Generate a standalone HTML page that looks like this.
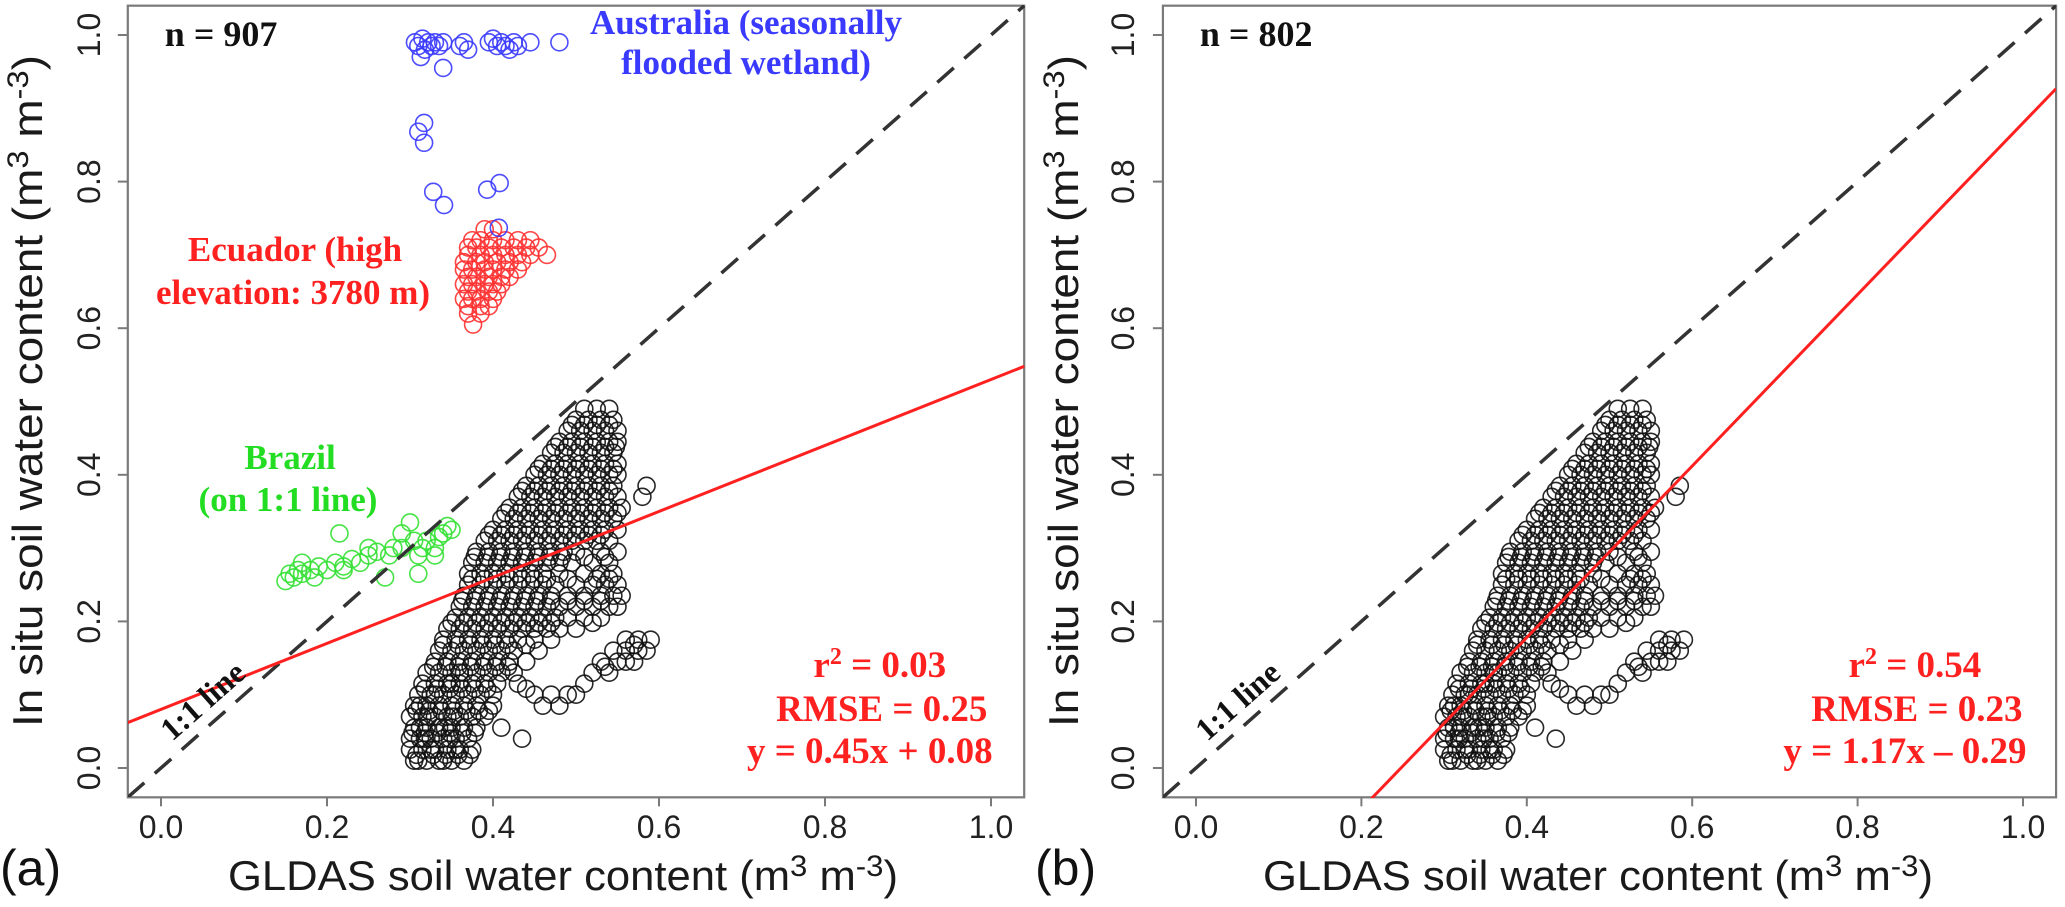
<!DOCTYPE html>
<html><head><meta charset="utf-8"><style>
html,body{margin:0;padding:0;background:#fff;width:2065px;height:907px;overflow:hidden;}
svg{display:block;}
</style></head><body>
<svg id="fig" width="2065" height="907" viewBox="0 0 2065 907" xmlns="http://www.w3.org/2000/svg">
<defs>
<clipPath id="clipA"><rect x="128" y="5" width="897" height="792"/></clipPath>
<clipPath id="clipB"><rect x="1163" y="5" width="893" height="793"/></clipPath>
</defs>
<g id="panelA"></g>
<g id="panelB"></g>
</svg>
<script>
// ---- data ----
const xTicks = [0, 0.2, 0.4, 0.6, 0.8, 1.0];
const yTicks = [0, 0.2, 0.4, 0.6, 0.8, 1.0];
const tickLabels = ["0.0", "0.2", "0.4", "0.6", "0.8", "1.0"];

const blackRowY = [0.01,0.025,0.04,0.055,0.07,0.085,0.10,0.115,0.13,0.145,0.16,0.175,0.19,0.205,0.22,0.235,0.25,0.265,0.28,0.295,0.31,0.325,0.34,0.355,0.37,0.385,0.40,0.415,0.43,0.445,0.46,0.475,0.49];
const blackRowX = [
[.305,.32,.335,.35,.365,.31,.34],
[.30,.315,.33,.345,.36,.375,.325,.355],
[.30,.312,.325,.34,.355,.37,.435,.318,.348],
[.305,.32,.335,.35,.365,.38,.41,.312,.342],
[.30,.315,.33,.345,.36,.375,.39,.322,.352],
[.305,.32,.335,.35,.365,.38,.40,.46,.48,.312],
[.31,.325,.34,.355,.37,.385,.40,.45,.47,.49,.50,.33],
[.315,.33,.345,.36,.375,.39,.405,.43,.51,.35],
[.32,.335,.35,.365,.38,.395,.41,.425,.52,.54,.36],
[.33,.345,.36,.375,.39,.405,.42,.44,.53,.55,.56,.57],
[.335,.35,.365,.38,.395,.41,.425,.455,.545,.56,.575,.585],
[.34,.355,.37,.385,.40,.415,.43,.45,.47,.56,.575,.59],
[.345,.36,.375,.39,.405,.42,.435,.45,.465,.48,.50],
[.355,.37,.385,.40,.415,.43,.445,.46,.475,.49,.51,.53],
[.36,.375,.39,.405,.42,.435,.45,.465,.48,.50,.52,.54,.55],
[.365,.38,.395,.41,.425,.44,.455,.47,.49,.51,.53,.545,.555],
[.37,.385,.40,.415,.43,.445,.46,.475,.50,.52,.535,.55],
[.37,.385,.40,.415,.43,.445,.46,.48,.51,.53,.545],
[.375,.39,.405,.42,.435,.45,.465,.48,.495,.52,.54],
[.38,.395,.41,.425,.44,.455,.47,.485,.50,.53,.55],
[.39,.405,.42,.435,.45,.465,.48,.495,.51,.525,.54],
[.40,.415,.43,.445,.46,.475,.49,.505,.52,.535,.55],
[.41,.425,.44,.455,.47,.485,.50,.515,.53,.545],
[.42,.435,.45,.465,.48,.495,.51,.525,.54,.555],
[.43,.445,.46,.475,.49,.505,.52,.535,.55,.58],
[.44,.455,.47,.485,.50,.515,.53,.545,.585],
[.45,.465,.48,.495,.51,.525,.54,.55],
[.46,.475,.49,.505,.52,.535,.55],
[.47,.485,.50,.515,.53,.545],
[.48,.495,.51,.525,.54,.55],
[.49,.505,.52,.535,.55],
[.50,.515,.53,.545],
[.51,.525,.54]
];
const blackRowY2 = [0.018,0.048,0.078,0.108,0.138,0.168,0.198,0.228,0.258,0.288,0.318,0.348,0.378,0.408,0.438,0.468];
const blackRowX2 = [
[.308,.328,.343,.358,.372],
[.303,.318,.333,.348,.363,.378],
[.308,.323,.338,.353,.368,.383,.395],
[.318,.333,.348,.363,.378,.393,.44],
[.328,.343,.358,.373,.388,.403,.418,.535],
[.34,.358,.373,.388,.403,.418,.44,.57],
[.35,.365,.38,.395,.41,.425,.44,.455,.47,.52],
[.363,.378,.393,.408,.423,.438,.453,.47,.49,.51,.53],
[.375,.39,.405,.42,.435,.45,.465,.49,.525,.54],
[.378,.393,.408,.423,.438,.453,.468,.483,.51,.535],
[.395,.41,.425,.44,.455,.47,.485,.50,.515,.53],
[.415,.43,.445,.46,.475,.49,.505,.52,.535,.55],
[.435,.45,.465,.48,.495,.51,.525,.54],
[.455,.47,.485,.50,.515,.53,.545],
[.475,.49,.505,.52,.535,.548],
[.495,.51,.525,.54]
];

const greenX = [.15,.16,.165,.17,.18,.185,.19,.20,.21,.215,.22,.23,.24,.25,.26,.27,.28,.29,.30,.305,.31,.315,.32,.33,.335,.34,.345,.35,.17,.22,.25,.29,.31,.33,.155,.275];
const greenY = [.255,.26,.27,.265,.27,.26,.275,.27,.28,.32,.275,.285,.28,.29,.295,.26,.30,.30,.335,.31,.29,.30,.31,.30,.315,.32,.33,.325,.28,.27,.30,.32,.265,.29,.265,.29];

const redRowY = [.735,.72,.71,.70,.69,.68,.67,.66,.65,.64,.63,.62,.605];
const redRowX = [
[.39,.40],
[.375,.385,.40,.415,.43,.445],
[.37,.38,.395,.41,.425,.44,.455],
[.37,.385,.40,.415,.43,.465,.445],
[.365,.38,.39,.405,.42,.435],
[.365,.375,.39,.40,.415,.43],
[.37,.38,.395,.41,.42],
[.365,.375,.39,.40,.41],
[.37,.38,.395,.405],
[.365,.375,.385,.40],
[.37,.385,.395],
[.37,.385],
[.376]
];

const blueX = [.306,.31,.315,.318,.322,.326,.33,.335,.34,.36,.365,.37,.395,.40,.405,.41,.415,.42,.425,.43,.445,.313,.34,.317,.31,.317,.328,.341,.393,.408,.407,.48];
const blueY = [.99,.985,.995,.98,.99,.985,.99,.985,.99,.985,.99,.98,.99,.995,.985,.99,.985,.98,.99,.985,.99,.97,.955,.88,.868,.853,.786,.768,.789,.798,.737,.99];

const fitA = {slope: 0.45, intercept: 0.08};
const fitB = {slope: 1.17, intercept: -0.29};

// ---- drawing ----
const NS = "http://www.w3.org/2000/svg";
function mk(tag, attrs, parent){
  const e = document.createElementNS(NS, tag);
  for (const k in attrs) e.setAttribute(k, attrs[k]);
  parent.appendChild(e);
  return e;
}

function drawPanel(g, P){
  const X = v => P.x0 + v * P.ux;
  const Y = v => 768 - v * 733;
  const lo = -0.04, hi = 1.04;

  const frame = mk('rect', {x: X(lo), y: Y(hi), width: X(hi)-X(lo), height: Y(lo)-Y(hi), fill: 'none', stroke: '#7a7a7a', 'stroke-width': 2.2}, g);
  
  

  xTicks.forEach((t, i) => {
    const tk = mk('line', {x1: X(t), x2: X(t), y1: Y(lo), y2: Y(lo)+9, stroke: '#7a7a7a', 'stroke-width': 2}, g);
    
    
    const tl = mk('text', {x: X(t), y: 838, 'text-anchor': 'middle', 'font-family': 'Liberation Sans, sans-serif', 'font-size': 32, fill: '#222'}, g);
    tl.textContent = tickLabels[i];
    
    
  });
  yTicks.forEach((t, i) => {
    const tk = mk('line', {x1: X(lo)-10, x2: X(lo), y1: Y(t), y2: Y(t), stroke: '#7a7a7a', 'stroke-width': 2}, g);
    
    
    const tl = mk('text', {transform: `translate(${P.yLabX},${Y(t)}) rotate(-90)`, 'text-anchor': 'middle', 'font-family': 'Liberation Sans, sans-serif', 'font-size': 32, fill: '#222'}, g);
    tl.textContent = tickLabels[i];
    
    
  });

  const xt = mk('text', {x: P.xTitleX, y: 890, 'font-family': 'Liberation Sans, sans-serif', 'font-size': 42, fill: '#1a1a1a', textLength: 670, lengthAdjust: 'spacingAndGlyphs'}, g);
  xt.innerHTML = 'GLDAS soil water content (m<tspan dy="-14" font-size="30">3</tspan><tspan dy="14"> m</tspan><tspan dy="-14" font-size="30">-3</tspan><tspan dy="14">)</tspan>';
  
  

  const yt = mk('text', {transform: `translate(${P.yTitleX},727) rotate(-90)`, 'font-family': 'Liberation Sans, sans-serif', 'font-size': 42, fill: '#1a1a1a', textLength: 672, lengthAdjust: 'spacingAndGlyphs'}, g);
  yt.innerHTML = 'In situ soil water content (m<tspan dy="-14" font-size="30">3</tspan><tspan dy="14"> m</tspan><tspan dy="-14" font-size="30">-3</tspan><tspan dy="14">)</tspan>';
  
  

  const pl = mk('text', {x: P.labelX, y: 885, 'font-family': 'Liberation Sans, sans-serif', 'font-size': 50, fill: '#111'}, g);
  pl.textContent = P.label;
  
  

  const plot = mk('g', {'clip-path': `url(#${P.clip})`}, g);
  
  

  function circle(x, y, color, name){
    const c = mk('circle', {cx: X(x), cy: Y(y), r: 8.5, fill: 'none', stroke: color, 'stroke-width': 1.6, 'stroke-opacity': 0.9}, plot);
    
    
  }
  blackRowY.forEach((y, i) => blackRowX[i].forEach(x => circle(x, y, '#111', 'point-other-sites')));
  blackRowY2.forEach((y, i) => blackRowX2[i].forEach(x => circle(x, y, '#111', 'point-other-sites')));
  if (P.showOutliers){
    greenX.forEach((x, i) => circle(x, greenY[i], '#33e033', 'point-brazil'));
    redRowY.forEach((y, i) => redRowX[i].forEach(x => circle(x, y, '#ff3030', 'point-ecuador')));
    blueX.forEach((x, i) => circle(x, blueY[i], '#3a3aff', 'point-australia'));
  }

  const one = mk('line', {x1: X(lo), y1: Y(lo), x2: X(hi), y2: Y(hi), stroke: '#333', 'stroke-width': 3.5, 'stroke-dasharray': '22 14'}, plot);
  
  

  const f = P.fit;
  const fl = mk('line', {x1: X(lo), y1: Y(f.slope*lo + f.intercept), x2: X(hi), y2: Y(f.slope*hi + f.intercept), stroke: '#ff2020', 'stroke-width': 3}, plot);
  
  

  const ang = -Math.atan(733 / P.ux) * 180 / Math.PI;
  const ol = mk('text', {transform: `translate(${X(0.05)},${Y(0.092)}) rotate(${ang})`, 'text-anchor': 'middle', 'dominant-baseline': 'central', 'font-family': 'Liberation Serif, serif', 'font-weight': 'bold', 'font-size': 32, fill: '#111'}, g);
  ol.textContent = '1:1 line';
  
  

  const n = mk('text', {x: X(lo)+37, y: 46, 'font-family': 'Liberation Serif, serif', 'font-weight': 'bold', 'font-size': 36, fill: '#111'}, g);
  n.textContent = P.n;
  
  

  const st = mk('g', {'font-family': 'Liberation Serif, serif', 'font-weight': 'bold', 'font-size': 37, fill: '#ff2020', 'text-anchor': 'middle'}, g);
  
  
  const cx = X(lo) + 742;
  const t1 = mk('text', {x: cx+10, y: 677}, st);
  t1.innerHTML = 'r<tspan dy="-13" font-size="24">2</tspan><tspan dy="13"> = ' + P.r2 + '</tspan>';
  
  
  const t2 = mk('text', {x: cx+12, y: 721}, st);
  t2.textContent = 'RMSE = ' + P.rmse;
  
  
  const t3 = mk('text', {x: cx, y: 763}, st);
  t3.textContent = P.eq;
  
  

  if (P.showOutliers){
    const au = mk('g', {'font-family': 'Liberation Serif, serif', 'font-weight': 'bold', 'font-size': 35, fill: '#3a3aff', 'text-anchor': 'middle'}, g);
    
    
    mk('text', {x: 746, y: 34}, au).textContent = 'Australia (seasonally';
    mk('text', {x: 746, y: 74}, au).textContent = 'flooded wetland)';
    const ec = mk('g', {'font-family': 'Liberation Serif, serif', 'font-weight': 'bold', 'font-size': 35, fill: '#ff2020', 'text-anchor': 'middle'}, g);
    
    
    mk('text', {x: 295, y: 261}, ec).textContent = 'Ecuador (high';
    mk('text', {x: 293, y: 304}, ec).textContent = 'elevation: 3780 m)';
    const br = mk('g', {'font-family': 'Liberation Serif, serif', 'font-weight': 'bold', 'font-size': 35, fill: '#22dd22', 'text-anchor': 'middle'}, g);
    
    
    mk('text', {x: 290, y: 469}, br).textContent = 'Brazil';
    mk('text', {x: 288, y: 511}, br).textContent = '(on 1:1 line)';
  }
}

drawPanel(document.getElementById('panelA'), {
  x0: 161, ux: 830, yLabX: 100, yTitleX: 42, xTitleX: 228, labelX: 0, label: '(a)',
  clip: 'clipA', showOutliers: true, fit: fitA, n: 'n = 907', r2: '0.03', rmse: '0.25', eq: 'y = 0.45x + 0.08'
});
drawPanel(document.getElementById('panelB'), {
  x0: 1196, ux: 827, yLabX: 1134, yTitleX: 1078, xTitleX: 1263, labelX: 1035, label: '(b)',
  clip: 'clipB', showOutliers: false, fit: fitB, n: 'n = 802', r2: '0.54', rmse: '0.23', eq: 'y = 1.17x \u2013 0.29'
});
</script>
</body></html>
